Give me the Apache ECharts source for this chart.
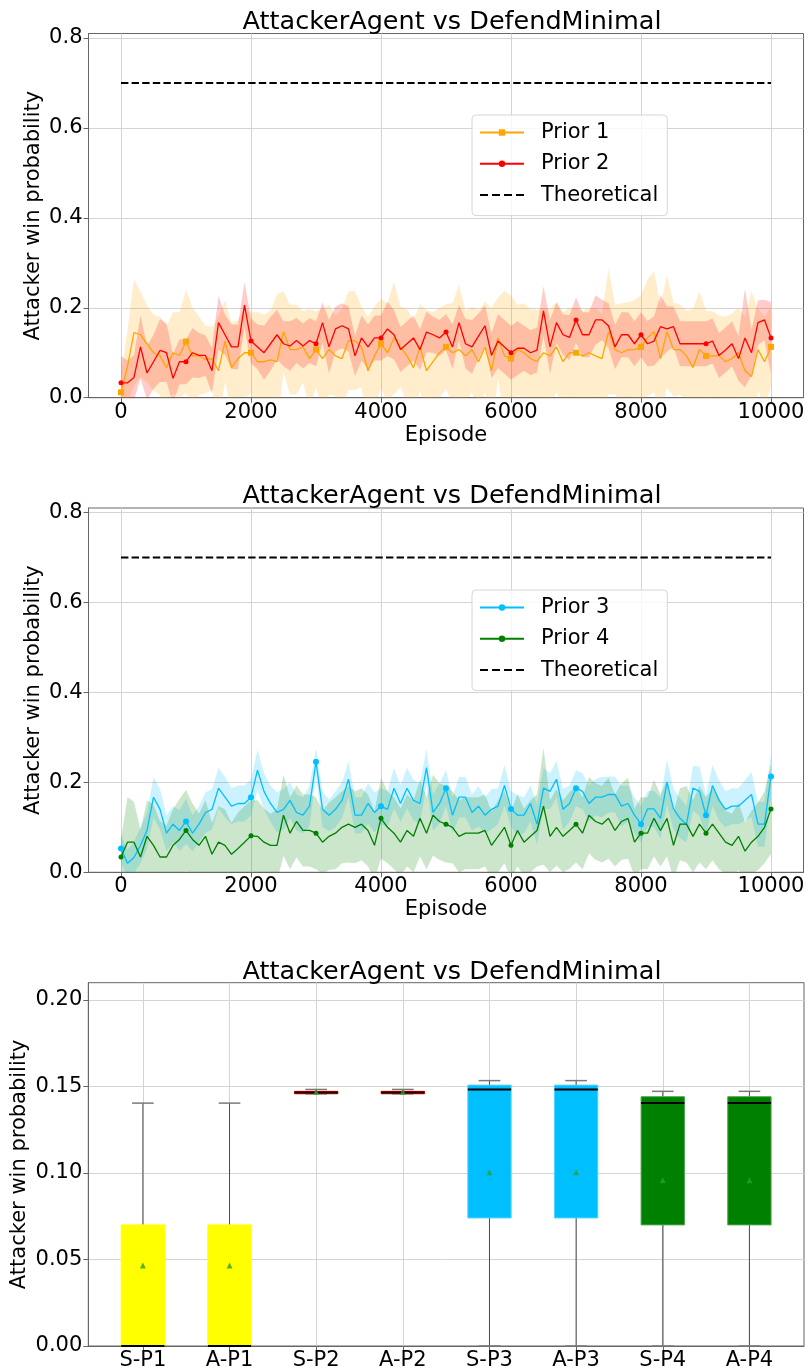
<!DOCTYPE html>
<html><head><meta charset="utf-8">
<script src="https://cdn.jsdelivr.net/npm/echarts@6/dist/echarts.min.js"></script>
<style>html,body{margin:0;padding:0;background:#fff}#c{width:808px;height:1371px}</style>
</head><body><div id="c"></div>
<script>
// ---------- DATA ----------
const episodes = [0,100,200,300,400,500,600,700,800,900,1000,1100,1200,1300,1400,1500,1600,1700,1800,1900,2000,2100,2200,2300,2400,2500,2600,2700,2800,2900,3000,3100,3200,3300,3400,3500,3600,3700,3800,3900,4000,4100,4200,4300,4400,4500,4600,4700,4800,4900,5000,5100,5200,5300,5400,5500,5600,5700,5800,5900,6000,6100,6200,6300,6400,6500,6600,6700,6800,6900,7000,7100,7200,7300,7400,7500,7600,7700,7800,7900,8000,8100,8200,8300,8400,8500,8600,8700,8800,8900,9000,9100,9200,9300,9400,9500,9600,9700,9800,9900,10000];

const p1Mean = [0.012,0.07,0.145,0.14,0.12,0.10,0.093,0.067,0.10,0.094,
 0.125,0.093,0.093,0.085,0.087,0.06,0.126,0.067,0.087,0.10,
 0.10,0.08,0.08,0.084,0.08,0.147,0.107,0.107,0.113,0.087,
 0.107,0.087,0.107,0.093,0.087,0.127,0.127,0.113,0.06,0.093,
 0.12,0.10,0.133,0.113,0.093,0.067,0.113,0.06,0.08,0.10,
 0.113,0.10,0.107,0.093,0.107,0.08,0.113,0.06,0.133,0.093,
 0.087,0.107,0.10,0.087,0.08,0.10,0.093,0.113,0.08,0.10,
 0.10,0.093,0.10,0.093,0.087,0.147,0.107,0.10,0.107,0.107,
 0.113,0.133,0.147,0.087,0.147,0.107,0.107,0.093,0.067,0.107,
 0.093,0.093,0.093,0.08,0.087,0.10,0.06,0.047,0.107,0.08,
 0.113];
const p1Std = [0.04,0.08,0.118,0.095,0.085,0.085,0.087,0.093,0.09,0.096,
 0.115,0.107,0.087,0.075,0.07,0.12,0.09,0.10,0.085,0.10,
 0.09,0.11,0.105,0.11,0.15,0.09,0.10,0.10,0.08,0.11,
 0.085,0.11,0.10,0.09,0.11,0.11,0.11,0.09,0.12,0.11,
 0.10,0.11,0.125,0.09,0.105,0.105,0.095,0.135,0.11,0.10,
 0.095,0.11,0.145,0.10,0.095,0.115,0.10,0.14,0.09,0.145,
 0.14,0.10,0.11,0.11,0.115,0.10,0.105,0.10,0.11,0.10,
 0.10,0.10,0.10,0.105,0.10,0.14,0.10,0.11,0.105,0.11,
 0.115,0.13,0.135,0.12,0.125,0.105,0.10,0.10,0.13,0.13,
 0.10,0.10,0.09,0.10,0.10,0.10,0.12,0.19,0.09,0.10,
 0.09];

const p2Mean = [0.033,0.033,0.045,0.113,0.055,0.08,0.105,0.10,0.043,0.08,
 0.08,0.10,0.094,0.094,0.06,0.167,0.14,0.113,0.113,0.206,
 0.126,0.113,0.10,0.12,0.14,0.12,0.115,0.127,0.115,0.127,
 0.12,0.167,0.113,0.153,0.16,0.153,0.093,0.133,0.113,0.133,
 0.133,0.153,0.14,0.107,0.12,0.133,0.107,0.146,0.14,0.133,
 0.146,0.113,0.167,0.12,0.113,0.137,0.16,0.094,0.126,0.113,
 0.10,0.11,0.11,0.10,0.106,0.193,0.113,0.167,0.14,0.134,
 0.173,0.14,0.14,0.173,0.173,0.16,0.113,0.14,0.14,0.12,
 0.14,0.12,0.126,0.158,0.153,0.158,0.12,0.12,0.12,0.12,
 0.12,0.126,0.094,0.106,0.12,0.087,0.133,0.10,0.167,0.173,
 0.133];
const p2Std = [0.06,0.05,0.05,0.07,0.06,0.06,0.07,0.065,0.055,0.05,
 0.05,0.055,0.05,0.045,0.05,0.06,0.045,0.05,0.05,0.05,
 0.05,0.05,0.06,0.06,0.055,0.05,0.055,0.05,0.05,0.05,
 0.05,0.045,0.06,0.05,0.05,0.05,0.045,0.05,0.05,0.05,
 0.05,0.06,0.055,0.05,0.05,0.05,0.045,0.045,0.04,0.04,
 0.04,0.05,0.04,0.055,0.06,0.05,0.045,0.05,0.06,0.06,
 0.06,0.06,0.05,0.05,0.05,0.055,0.06,0.045,0.045,0.05,
 0.05,0.05,0.05,0.055,0.045,0.05,0.05,0.05,0.05,0.05,
 0.05,0.05,0.055,0.07,0.05,0.045,0.05,0.05,0.05,0.05,
 0.05,0.05,0.05,0.05,0.05,0.05,0.11,0.05,0.05,0.045,
 0.08];

const p3Mean = [0.053,0.02,0.033,0.06,0.093,0.167,0.14,0.087,0.107,0.093,
 0.113,0.087,0.107,0.133,0.14,0.187,0.167,0.147,0.153,0.153,
 0.167,0.227,0.18,0.153,0.133,0.14,0.16,0.133,0.127,0.147,
 0.246,0.14,0.127,0.14,0.16,0.207,0.127,0.127,0.153,0.133,
 0.147,0.14,0.187,0.153,0.187,0.16,0.153,0.233,0.133,0.153,
 0.187,0.127,0.167,0.167,0.133,0.147,0.127,0.14,0.147,0.193,
 0.141,0.127,0.127,0.153,0.107,0.187,0.18,0.207,0.14,0.153,
 0.187,0.18,0.153,0.167,0.167,0.173,0.173,0.147,0.153,0.127,
 0.107,0.141,0.141,0.12,0.2,0.141,0.12,0.107,0.187,0.18,
 0.127,0.193,0.16,0.14,0.147,0.147,0.16,0.173,0.107,0.107,
 0.213];
const p3Std = [0.03,0.03,0.035,0.04,0.04,0.045,0.045,0.04,0.04,0.045,
 0.05,0.04,0.04,0.045,0.045,0.045,0.045,0.04,0.04,0.04,
 0.04,0.045,0.04,0.04,0.045,0.045,0.04,0.04,0.04,0.045,
 0.03,0.04,0.035,0.04,0.04,0.04,0.04,0.04,0.045,0.045,
 0.04,0.04,0.045,0.04,0.045,0.045,0.045,0.04,0.04,0.045,
 0.04,0.04,0.045,0.045,0.04,0.045,0.04,0.045,0.04,0.045,
 0.04,0.045,0.04,0.04,0.045,0.045,0.04,0.04,0.045,0.04,
 0.04,0.04,0.04,0.04,0.045,0.04,0.04,0.045,0.04,0.04,
 0.04,0.04,0.04,0.045,0.05,0.045,0.045,0.04,0.05,0.055,
 0.045,0.045,0.045,0.04,0.04,0.04,0.045,0.05,0.05,0.05,
 0.05];

const p4Mean = [0.034,0.067,0.067,0.034,0.08,0.06,0.034,0.034,0.06,0.073,
 0.093,0.073,0.06,0.08,0.04,0.067,0.06,0.04,0.053,0.067,
 0.081,0.08,0.067,0.06,0.06,0.127,0.087,0.113,0.093,0.093,
 0.087,0.067,0.08,0.087,0.10,0.107,0.10,0.107,0.093,0.06,
 0.12,0.10,0.087,0.067,0.093,0.08,0.12,0.087,0.127,0.113,
 0.107,0.10,0.08,0.087,0.087,0.087,0.093,0.06,0.08,0.10,
 0.06,0.093,0.067,0.08,0.093,0.147,0.08,0.10,0.08,0.093,
 0.107,0.087,0.127,0.113,0.107,0.12,0.093,0.113,0.12,0.067,
 0.087,0.087,0.12,0.093,0.12,0.06,0.107,0.107,0.08,0.107,
 0.087,0.107,0.087,0.067,0.06,0.08,0.047,0.067,0.08,0.10,
 0.141];
const p4Std = [0.04,0.1,0.09,0.06,0.08,0.09,0.08,0.07,0.08,0.09,
 0.09,0.08,0.07,0.08,0.07,0.08,0.08,0.07,0.08,0.08,
 0.08,0.08,0.075,0.07,0.08,0.09,0.08,0.08,0.08,0.08,
 0.08,0.07,0.075,0.08,0.08,0.085,0.08,0.08,0.08,0.075,
 0.09,0.08,0.08,0.075,0.08,0.08,0.085,0.08,0.09,0.085,
 0.085,0.08,0.08,0.08,0.08,0.08,0.08,0.075,0.08,0.08,
 0.075,0.08,0.075,0.08,0.08,0.13,0.08,0.085,0.08,0.085,
 0.085,0.08,0.085,0.085,0.085,0.09,0.08,0.085,0.09,0.075,
 0.08,0.08,0.085,0.08,0.085,0.075,0.08,0.085,0.08,0.085,
 0.08,0.08,0.08,0.07,0.07,0.075,0.065,0.07,0.075,0.08,
 0.1];

const theoreticalX = [0, 10000];
const theoreticalY = [0.7, 0.7];

const xTicks = [0, 2000, 4000, 6000, 8000, 10000];
const yTicksLine = [0, 0.2, 0.4, 0.6, 0.8];
const yTicksBox = [0, 0.05, 0.10, 0.15, 0.20];

const boxCats = ['S-P1','A-P1','S-P2','A-P2','S-P3','A-P3','S-P4','A-P4'];
const boxPos  = [1, 2, 3, 4, 5, 6, 7, 8];
const boxMin  = [0, 0, 0.1458, 0.1458, 0, 0, 0, 0];
const boxQ1   = [0, 0, 0.1458, 0.1458, 0.074, 0.074, 0.070, 0.070];
const boxMed  = [0, 0, 0.1465, 0.1465, 0.1483, 0.1483, 0.1404, 0.1404];
const boxQ3   = [0.070, 0.070, 0.1472, 0.1472, 0.1508, 0.1508, 0.1441, 0.1441];
const boxMax  = [0.1404, 0.1404, 0.1483, 0.1483, 0.1534, 0.1534, 0.1472, 0.1472];
const boxMean = [0.0465, 0.0465, 0.147, 0.147, 0.1004, 0.1004, 0.0958, 0.0958];

// ---------- STYLE ----------
const F = 'DejaVu Sans';
const FRAME = '#666';
const GRID = '#d4d4d4';
const boxColors = ['#ffff00','#ffff00','#ff0000','#ff0000','#00bfff','#00bfff','#008000','#008000'];
const boxEdge   = ['#ffff00','#ffff00','#ff0000','#ff0000','#55d4ff','#55d4ff','#4ca64c','#4ca64c'];
const dashIcon = 'path://M0,0h8v2h-8z M12,0h8v2h-8z M24,0h8v2h-8z M36,0h8v2h-8z';

const chart = echarts.init(document.getElementById('c'), null, {renderer: 'canvas'});

function lineXAxis(gi) {
  return {
    type: 'value', gridIndex: gi, min: -500, max: 10500,
    name: 'Episode', nameLocation: 'middle', nameGap: 27, nameMoveOverlap: false,
    nameTextStyle: {fontFamily: F, fontSize: 21, color: '#000'},
    axisLine: {show: true, onZero: false, lineStyle: {color: FRAME, width: 1}},
    axisTick: {show: true, length: 5, customValues: xTicks, lineStyle: {color: FRAME}},
    axisLabel: {show: true, customValues: xTicks, margin: 4, fontFamily: F, fontSize: 21, color: '#000',
      formatter: v => String(Math.round(v))},
    splitLine: {show: true, lineStyle: {color: GRID, width: 1}}
  };
}
function lineYAxis(gi) {
  return {
    type: 'value', gridIndex: gi, min: 0, max: 0.81,
    name: 'Attacker win probability', nameLocation: 'middle', nameGap: 44, nameRotate: 90,
    nameMoveOverlap: false,
    nameTextStyle: {fontFamily: F, fontSize: 21, color: '#000'},
    axisLine: {show: true, onZero: false, lineStyle: {color: FRAME, width: 1}},
    axisTick: {show: true, length: 5, customValues: yTicksLine, lineStyle: {color: FRAME}},
    axisLabel: {show: true, customValues: yTicksLine, margin: 6, fontFamily: F, fontSize: 21, color: '#000',
      formatter: v => Number(v).toFixed(1)},
    splitLine: {show: true, lineStyle: {color: GRID, width: 1}}
  };
}

function bandSeries(id, mean, std, color, gi) {
  return {
    type: 'custom', name: id, xAxisIndex: gi, yAxisIndex: gi, silent: true, z: 1,
    data: episodes.map((e, i) => [e, mean[i] - std[i], mean[i] + std[i]]),
    encode: {x: 0, y: [1, 2]},
    renderItem: function (params, api) {
      if (params.dataIndex !== 0) return null;
      const pts = [];
      for (let i = 0; i < episodes.length; i++) pts.push(api.coord([episodes[i], mean[i] + std[i]]));
      for (let i = episodes.length - 1; i >= 0; i--) pts.push(api.coord([episodes[i], mean[i] - std[i]]));
      const cs = params.coordSys;
      return {
        type: 'polygon', shape: {points: pts}, style: {fill: color},
        clipPath: {type: 'rect', shape: {x: cs.x, y: cs.y, width: cs.width, height: cs.height}}
      };
    }
  };
}
function meanSeries(name, mean, color, symbol, size, gi) {
  return {
    type: 'line', name: name, xAxisIndex: gi, yAxisIndex: gi,
    data: episodes.map((e, i) => [e, mean[i]]),
    symbol: symbol, showSymbol: true,
    symbolSize: (v, p) => (p.dataIndex % 10 === 0 ? size : 0),
    lineStyle: {color: color, width: 1.3}, itemStyle: {color: color},
    z: 3, animation: false
  };
}
function theoSeries(gi) {
  return {
    type: 'line', name: 'Theoretical', xAxisIndex: gi, yAxisIndex: gi,
    data: theoreticalX.map((x, i) => [x, theoreticalY[i]]),
    symbol: 'none', lineStyle: {color: '#000', width: 2, type: [7.4, 3.2]}, itemStyle: {color: '#000'},
    z: 4, animation: false
  };
}
function legendCfg(top, names) {
  return {
    orient: 'vertical', left: 472, top: top, itemWidth: 44, itemHeight: 8, itemGap: 10.3,
    padding: [7, 9, 10, 7], borderColor: '#d6d6d6', borderWidth: 1, borderRadius: 4,
    backgroundColor: 'rgba(255,255,255,0.8)', selectedMode: false,
    textStyle: {fontFamily: F, fontSize: 21, color: '#000', lineHeight: 21, padding: [0, 0, 0, 12]},
    data: [{name: names[0]}, {name: names[1]}, {name: 'Theoretical', icon: dashIcon}]
  };
}

const boxData = boxPos.map((p, i) => [p, boxMin[i], boxQ1[i], boxMed[i], boxQ3[i], boxMax[i]]);

const titleStyle = {fontFamily: F, fontSize: 25.5, fontWeight: 'normal', color: '#000'};
const option = {
  backgroundColor: '#fff',
  animation: false,
  title: [
    {text: 'AttackerAgent vs DefendMinimal', left: 447, top: 4, textAlign: 'center', textStyle: titleStyle},
    {text: 'AttackerAgent vs DefendMinimal', left: 447, top: 478.5, textAlign: 'center', textStyle: titleStyle},
    {text: 'AttackerAgent vs DefendMinimal', left: 447, top: 954, textAlign: 'center', textStyle: titleStyle}
  ],
  legend: [legendCfg(115, ['Prior 1', 'Prior 2']), legendCfg(590, ['Prior 3', 'Prior 4'])],
  grid: [
    {left: 88.5, top: 33.5, width: 715, height: 364.2, show: true, borderColor: FRAME, borderWidth: 1, backgroundColor: 'transparent'},
    {left: 88.5, top: 508, width: 715, height: 364.3, show: true, borderColor: FRAME, borderWidth: 1, backgroundColor: 'transparent'},
    {left: 88.3, top: 982.7, width: 715.7, height: 363.3, show: true, borderColor: FRAME, borderWidth: 1, backgroundColor: 'transparent'}
  ],
  xAxis: [
    lineXAxis(0), lineXAxis(1),
    {type: 'value', gridIndex: 2, min: 0.37, max: 8.63,
     axisLine: {show: true, onZero: false, lineStyle: {color: FRAME, width: 1}},
     axisTick: {show: true, length: 5, customValues: boxPos, lineStyle: {color: FRAME}},
     axisLabel: {show: true, customValues: boxPos, margin: 4, fontFamily: F, fontSize: 21, color: '#000',
       formatter: v => boxCats[Math.round(v) - 1]},
     splitLine: {show: true, lineStyle: {color: GRID, width: 1}}}
  ],
  yAxis: [
    lineYAxis(0), lineYAxis(1),
    {type: 'value', gridIndex: 2, min: 0, max: 0.21,
     name: 'Attacker win probability', nameLocation: 'middle', nameGap: 58, nameRotate: 90,
     nameMoveOverlap: false,
     nameTextStyle: {fontFamily: F, fontSize: 21, color: '#000'},
     axisLine: {show: true, onZero: false, lineStyle: {color: FRAME, width: 1}},
     axisTick: {show: true, length: 5, customValues: yTicksBox, lineStyle: {color: FRAME}},
     axisLabel: {show: true, customValues: yTicksBox, margin: 6, fontFamily: F, fontSize: 21, color: '#000',
       formatter: v => Number(v).toFixed(2)},
     splitLine: {show: true, lineStyle: {color: GRID, width: 1}}}
  ],
  series: [
    bandSeries('b1', p1Mean, p1Std, 'rgba(255,165,0,0.2)', 0),
    bandSeries('b2', p2Mean, p2Std, 'rgba(255,0,0,0.2)', 0),
    meanSeries('Prior 1', p1Mean, '#ffa500', 'rect', 6, 0),
    meanSeries('Prior 2', p2Mean, '#ff0000', 'circle', 5, 0),
    theoSeries(0),
    bandSeries('b3', p3Mean, p3Std, 'rgba(0,191,255,0.2)', 1),
    bandSeries('b4', p4Mean, p4Std, 'rgba(0,128,0,0.2)', 1),
    meanSeries('Prior 3', p3Mean, '#00bfff', 'circle', 6, 1),
    meanSeries('Prior 4', p4Mean, '#008000', 'circle', 5, 1),
    theoSeries(1),
    {
      type: 'custom', name: 'box', xAxisIndex: 2, yAxisIndex: 2, data: boxData,
      encode: {x: 0, y: [1, 2, 3, 4, 5]}, z: 2, silent: true,
      renderItem: function (params, api) {
        const i = params.dataIndex;
        const x = api.value(0);
        const pMin = api.coord([x, api.value(1)]);
        const pQ1 = api.coord([x, api.value(2)]);
        const pMed = api.coord([x, api.value(3)]);
        const pQ3 = api.coord([x, api.value(4)]);
        const pMax = api.coord([x, api.value(5)]);
        const cx = pMin[0];
        const half = api.size([0.5, 0])[0] / 2;
        const cap = api.size([0.25, 0])[0] / 2;
        const wStyle = {stroke: '#4a4a4a', lineWidth: 1};
        const cStyle = {stroke: '#7a7a7a', lineWidth: 1.5};
        return {
          type: 'group',
          children: [
            {type: 'line', shape: {x1: cx, y1: pQ1[1], x2: cx, y2: pMin[1]}, style: wStyle},
            {type: 'line', shape: {x1: cx, y1: pQ3[1], x2: cx, y2: pMax[1]}, style: wStyle},
            {type: 'line', shape: {x1: cx - cap, y1: pMin[1], x2: cx + cap, y2: pMin[1]}, style: cStyle},
            {type: 'line', shape: {x1: cx - cap, y1: pMax[1], x2: cx + cap, y2: pMax[1]}, style: cStyle},
            {type: 'rect', shape: {x: cx - half, y: pQ3[1], width: 2 * half, height: Math.max(pQ1[1] - pQ3[1], 0.5)},
             style: {fill: boxColors[i], stroke: boxEdge[i], lineWidth: 1}},
            {type: 'line', shape: {x1: cx - half, y1: pMed[1], x2: cx + half, y2: pMed[1]},
             style: {stroke: '#000', lineWidth: 2}}
          ]
        };
      }
    },
    {
      type: 'scatter', name: 'mean', xAxisIndex: 2, yAxisIndex: 2, z: 5, silent: true,
      data: boxPos.map((p, i) => [p, boxMean[i]]),
      symbol: 'triangle', symbolSize: 6, itemStyle: {color: '#2ca02c'}
    }
  ]
};
chart.setOption(option);
</script>
</body></html>
